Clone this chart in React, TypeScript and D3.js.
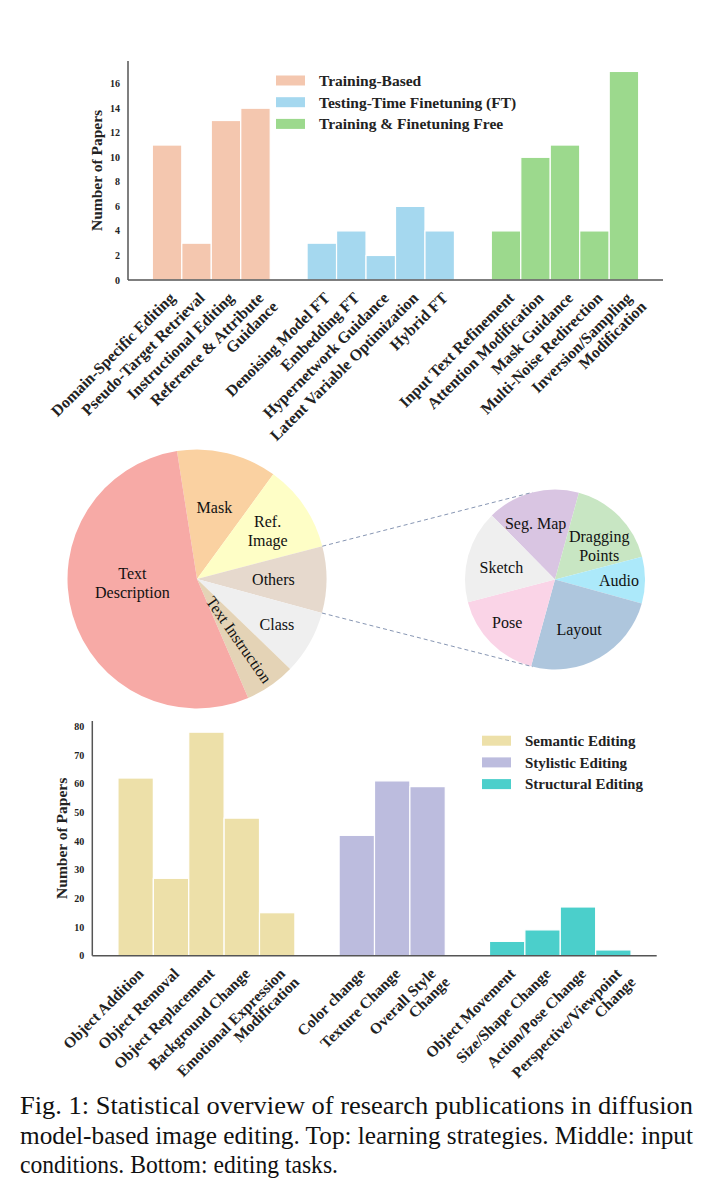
import React from "react";
import * as d3 from "d3";

// ---------- top: learning strategies ----------
const strategyGroups = ["Training-Based", "Testing-Time Finetuning (FT)", "Training & Finetuning Free"];
const strategyColors = ["#F4C7AF", "#A5D8EF", "#9CD98D"];
const trainingBasedLabels = [
  "Domain-Specific Editing",
  "Pseudo-Target Retrieval",
  "Instructional Editing",
  "Reference & Attribute\nGuidance",
];
const trainingBasedValues = [11, 3, 13, 14];
const finetuningLabels = [
  "Denoising Model FT",
  "Embedding FT",
  "Hypernetwork Guidance",
  "Latent Variable Optimization",
  "Hybrid FT",
];
const finetuningValues = [3, 4, 2, 6, 4];
const freeLabels = [
  "Input Text Refinement",
  "Attention Modification",
  "Mask Guidance",
  "Multi-Noise Redirection",
  "Inversion/Sampling\nModification",
];
const freeValues = [4, 10, 11, 4, 17];
const strategyTicks = [0, 2, 4, 6, 8, 10, 12, 14, 16];

// ---------- middle: input conditions ----------
const conditionLabels = ["Mask", "Ref.\nImage", "Others", "Class", "Text Instruction", "Text\nDescription"];
const conditionValues = [12.5, 10.9, 8.3, 8.0, 6.3, 54.0];
const conditionColors = ["#FAD1A1", "#FEFEC6", "#E6D9CD", "#EFEFEF", "#E4D3B6", "#F7AAA6"];

const otherLabels = ["Seg. Map", "Dragging\nPoints", "Audio", "Layout", "Pose", "Sketch"];
const otherValues = [2, 2, 1, 3, 2, 2];
const otherColors = ["#D9C5E2", "#C8E6C3", "#ACE9FA", "#AEC6DD", "#FAD4E7", "#EFEFEF"];

// ---------- bottom: editing tasks ----------
const taskGroups = ["Semantic Editing", "Stylistic Editing", "Structural Editing"];
const taskColors = ["#EDE0A9", "#BCBCDE", "#4BCFCB"];
const semanticLabels = [
  "Object Addition",
  "Object Removal",
  "Object Replacement",
  "Background Change",
  "Emotional Expression\nModification",
];
const semanticValues = [62, 27, 78, 48, 15];
const stylisticLabels = ["Color change", "Texture Change", "Overall Style\nChange"];
const stylisticValues = [42, 61, 59];
const structuralLabels = [
  "Object Movement",
  "Size/Shape Change",
  "Action/Pose Change",
  "Perspective/Viewpoint\nChange",
];
const structuralValues = [5, 9, 17, 2];
const taskTicks = [0, 10, 20, 30, 40, 50, 60, 70, 80];

const SERIF = "'Liberation Serif', 'Times New Roman', Times, serif";
const INK = "#222";

type Group = { name: string; color: string; labels: string[]; values: number[] };

function BarPanel({
  groups, ticks, left, right, top, bottom, yLabelX, legendX, legendY, labelSize, legendSize,
}: {
  groups: Group[]; ticks: number[]; left: number; right: number; top: number; bottom: number;
  yLabelX: number; legendX: number; legendY: number; labelSize: number; legendSize: number;
}) {
  const gap = 1.25;
  let idx = 0;
  const bars = groups.flatMap((g, gi) =>
    g.labels.map((label, i) => ({ label, value: g.values[i], color: g.color, pos: idx++ + gi * gap }))
  );
  const lo = d3.min(bars, b => b.pos)! - 0.5;
  const hi = d3.max(bars, b => b.pos)! + 0.5;
  const m = (hi - lo) * 0.05;
  const x = d3.scaleLinear().domain([lo - m, hi + m]).range([left, right]);
  const y = d3.scaleLinear().domain([0, d3.max(bars, b => b.value)! * 1.05]).range([bottom, top]);
  const w = x(1) - x(0);

  return (
    <g fontFamily={SERIF} fontWeight="bold" fill={INK}>
      {bars.map((b, i) => (
        <rect key={i} x={x(b.pos - 0.5)} y={y(b.value)} width={w} height={y(0) - y(b.value)}
          fill={b.color} stroke="#fff" strokeWidth={1.2} />
      ))}
      <line x1={left} x2={left} y1={top} y2={bottom} stroke="#555" strokeWidth={1.5} />
      <line x1={left} x2={right} y1={bottom} y2={bottom} stroke="#555" strokeWidth={1.5} />
      {ticks.map(t => (
        <text key={t} x={left - 8} y={y(t)} dy="0.35em" textAnchor="end" fontSize={10}>{t}</text>
      ))}
      <text transform={`translate(${yLabelX},${(top + bottom) / 2}) rotate(-90)`} textAnchor="middle"
        dy="0.35em" fontSize={15.5}>Number of Papers</text>
      {bars.map((b, i) => (
        <text key={i} transform={`translate(${x(b.pos) + 9},${bottom + 19}) rotate(-45)`}
          textAnchor="end" fontSize={labelSize}>
          {b.label.split("\n").map((ln, k) => (
            <tspan key={k} x={k ? 4 : 0} dy={k ? "1.02em" : 0}>{ln}</tspan>
          ))}
        </text>
      ))}
      {groups.map((g, gi) => (
        <g key={g.name} transform={`translate(${legendX},${legendY + gi * 21.7})`}>
          <rect x={0} y={-5} width={29} height={10} fill={g.color} />
          <text x={43} dy="0.35em" fontSize={legendSize}>{g.name}</text>
        </g>
      ))}
    </g>
  );
}

type PieOpts = {
  labels: string[]; values: number[]; colors: string[]; cx: number; cy: number; r: number;
  start: number; labelR: number[]; labelShift?: number[]; rotateLabel?: number[];
};

function pieArcs(o: PieOpts) {
  const a0 = (o.start * Math.PI) / 180;
  return d3.pie<number>().sort(null).startAngle(a0).endAngle(a0 + 2 * Math.PI)(o.values);
}

function Pie(o: PieOpts) {
  const arcs = pieArcs(o);
  const arc = d3.arc<d3.PieArcDatum<number>>().innerRadius(0).outerRadius(o.r);
  return (
    <g transform={`translate(${o.cx},${o.cy})`} fontFamily={SERIF} fontSize={16} fill="#111">
      {arcs.map((a, i) => (
        <path key={i} d={arc(a)!} fill={o.colors[i]} />
      ))}
      {arcs.map((a, i) => {
        const mid = (a.startAngle + a.endAngle) / 2 + ((o.labelShift?.[i] ?? 0) * Math.PI) / 180;
        const rr = o.r * o.labelR[i];
        const lx = rr * Math.sin(mid);
        const ly = -rr * Math.cos(mid);
        const lines = o.labels[i].split("\n");
        const rot = o.rotateLabel?.[i] ?? 0;
        return (
          <text key={i} transform={`translate(${lx},${ly}) rotate(${rot})`} textAnchor="middle">
            {lines.map((ln, k) => (
              <tspan key={k} x={0} y={(k - (lines.length - 1) / 2) * 19} dy="0.35em">{ln}</tspan>
            ))}
          </text>
        );
      })}
    </g>
  );
}

function tangentPoint(px: number, py: number, cx: number, cy: number, r: number, upper: boolean) {
  const vx = px - cx, vy = py - cy;
  const d = Math.hypot(vx, vy);
  const th = Math.atan2(vy, vx);
  const al = Math.acos(r / d);
  const pts = [th + al, th - al].map(t => [cx + r * Math.cos(t), cy + r * Math.sin(t)]);
  pts.sort((p, q) => p[1] - q[1]);
  return upper ? pts[0] : pts[1];
}

export default function App() {
  const strategies: Group[] = [
    { name: strategyGroups[0], color: strategyColors[0], labels: trainingBasedLabels, values: trainingBasedValues },
    { name: strategyGroups[1], color: strategyColors[1], labels: finetuningLabels, values: finetuningValues },
    { name: strategyGroups[2], color: strategyColors[2], labels: freeLabels, values: freeValues },
  ];
  const tasks: Group[] = [
    { name: taskGroups[0], color: taskColors[0], labels: semanticLabels, values: semanticValues },
    { name: taskGroups[1], color: taskColors[1], labels: stylisticLabels, values: stylisticValues },
    { name: taskGroups[2], color: taskColors[2], labels: structuralLabels, values: structuralValues },
  ];

  const big: PieOpts = {
    labels: conditionLabels, values: conditionValues, colors: conditionColors,
    cx: 197, cy: 579, r: 129.5, start: -8.9,
    labelR: [0.57, 0.66, 0.59, 0.71, 0.57, 0.5],
    labelShift: [0, 0, 0, 0, 0, 13],
    rotateLabel: [0, 0, 0, 0, 55, 0],
  };
  const small: PieOpts = {
    labels: otherLabels, values: otherValues, colors: otherColors,
    cx: 555, cy: 579.5, r: 90, start: -44.6,
    labelR: [0.66, 0.62, 0.71, 0.62, 0.71, 0.61],
    labelShift: [-4.5, 7, 0, 4, 3, -3],
  };

  // dashed connectors from the "Others" wedge to the detail pie
  const others = pieArcs(big)[2];
  const edge = (a: number) => [big.cx + big.r * Math.sin(a), big.cy - big.r * Math.cos(a)];
  const pUp = edge(others.startAngle);
  const pDown = edge(others.endAngle);
  const tUp = tangentPoint(pUp[0], pUp[1], small.cx, small.cy, small.r, true);
  const tDown = tangentPoint(pDown[0], pDown[1], small.cx, small.cy, small.r, false);

  return (
    <svg width={722} height={1196} style={{ position: "absolute", left: 0, top: 0, background: "#fff" }}>
      <rect width={722} height={1196} fill="#fff" />
      <BarPanel groups={strategies} ticks={strategyTicks} left={128} right={663} top={61} bottom={280}
        yLabelX={97} legendX={276} legendY={80.5} labelSize={16} legendSize={15.5} />

      <Pie {...big} />
      <Pie {...small} />
      <line x1={pUp[0]} y1={pUp[1]} x2={tUp[0]} y2={tUp[1]} stroke="#8796B3" strokeWidth={1} strokeDasharray="4 3" />
      <line x1={pDown[0]} y1={pDown[1]} x2={tDown[0]} y2={tDown[1]} stroke="#8796B3" strokeWidth={1} strokeDasharray="4 3" />

      <BarPanel groups={tasks} ticks={taskTicks} left={92.3} right={656.7} top={721} bottom={955.7}
        yLabelX={62} legendX={482} legendY={740.7} labelSize={15.5} legendSize={15} />

      <g fontFamily={SERIF} fontSize={25.5} fill="#111">
        <text x={20} y={1114} textLength={673} lengthAdjust="spacingAndGlyphs">
          Fig. 1: Statistical overview of research publications in diffusion
        </text>
        <text x={20} y={1144} textLength={673} lengthAdjust="spacingAndGlyphs">
          model-based image editing. Top: learning strategies. Middle: input
        </text>
        <text x={20} y={1173} textLength={318} lengthAdjust="spacingAndGlyphs">
          conditions. Bottom: editing tasks.
        </text>
      </g>
    </svg>
  );
}
